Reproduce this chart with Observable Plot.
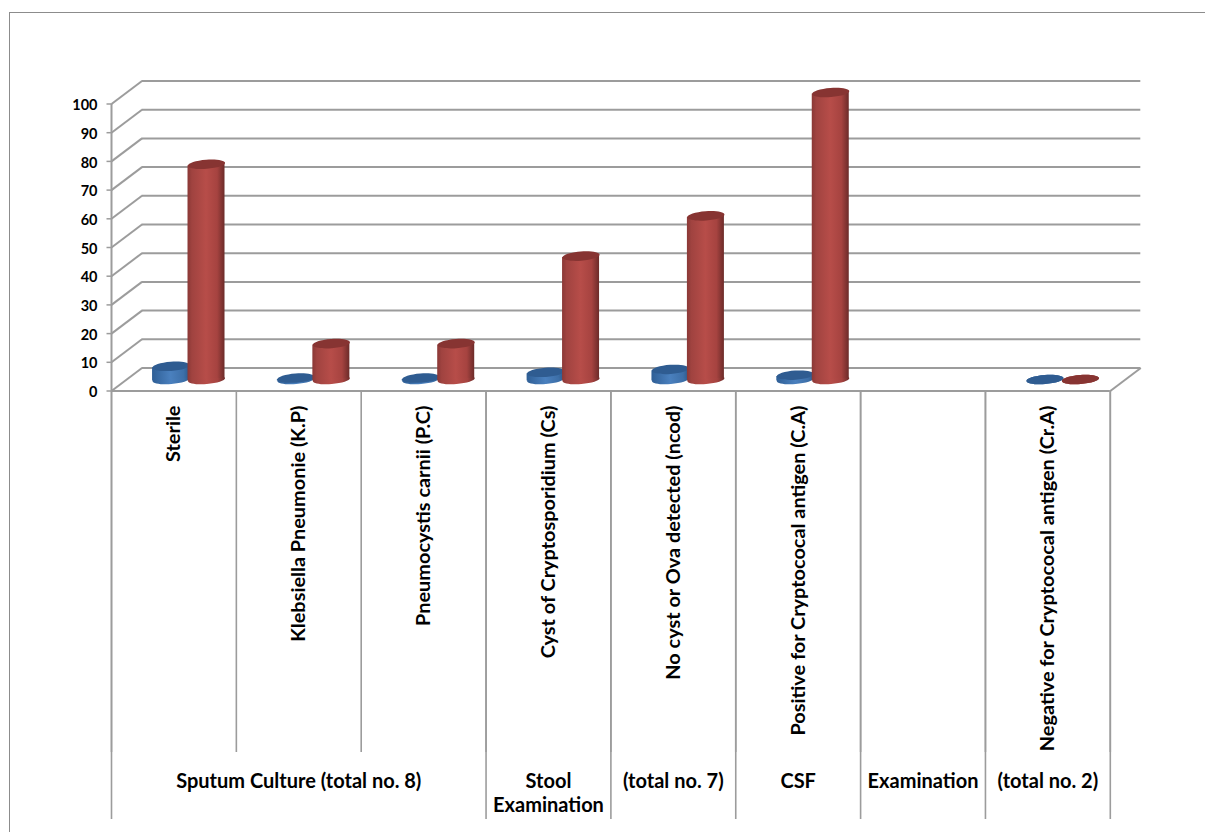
<!DOCTYPE html>
<html>
<head>
<meta charset="utf-8">
<script src="https://cdn.jsdelivr.net/npm/d3@7"></script>
<script src="https://cdn.jsdelivr.net/npm/@observablehq/plot@0.6"></script>
<style>
  html, body { margin: 0; padding: 0; background: #fff; width: 1205px; height: 832px; overflow: hidden; }
  #sheet { position: absolute; left: 9px; top: 12px; right: 0; bottom: 0; border-left: 1.5px solid #8c8c8c; border-top: 1.5px solid #8c8c8c; }
  #chart { position: absolute; left: 0; top: 0; }
</style>
</head>
<body>
<div id="sheet"></div>
<div id="chart"></div>
<script>
// Test results per examination: two series drawn as 3-D cylinders.
const categories = [
  "Sterile",
  "Klebsiella Pneumonie (K.P)",
  "Pneumocystis carnii (P.C)",
  "Cyst of Cryptosporidium (Cs)",
  "No cyst or Ova detected (ncod)",
  "Positive for Cryptococal antigen (C.A)",
  "",
  "Negative for Cryptococal antigen (Cr.A)"
];
const blueValues = [4.6, 0.5, 0.5, 2.5, 3.5, 1.5, null, 0];
const redValues = [75, 12.5, 12.5, 43, 57, 100, null, 0];
const yTicks = [0, 10, 20, 30, 40, 50, 60, 70, 80, 90, 100];

// Outer tier of the category axis.
const groupLabels = ["Sputum Culture (total no. 8)", "Stool\nExamination", "(total no. 7)", "CSF", "Examination", "(total no. 2)"];
const groupStarts = [0, 3, 4, 5, 6, 7];
const groupEnds = [3, 4, 5, 6, 7, 8];

// Scale geometry and the oblique projection of the chart box.
const xRange = [111, 1109.8];
const yRange = [390.5, 103.5];
const pxPerX = (xRange[1] - xRange[0]) / 8;
const pxPerY = (yRange[0] - yRange[1]) / 100;
const below = (px) => -px / pxPerY;          // distance under the zero line, in value units
const depthX = 30.5 / pxPerX;
const depthY = 23 / pxPerY;
const baseLift = 11.5 / pxPerY;              // cylinders stand mid-way into the floor
const halfWidth = 18.5 / pxPerX;
const tiltLift = 1.4 / pxPerY;               // perspective slant across a cylinder
const blueSlot = 0.477;
const redSlot = 0.761;

const lineColor = "#9c9c9c";
const textFont = "Lato, 'Open Sans', sans-serif";

// A slanted ellipse usable as a Plot.dot symbol.
function ellipseSymbol(rx, ry, angle) {
  const c = Math.cos(angle), s = Math.sin(angle), k = 0.5523;
  const pt = (u, v) => [u * c - v * s, u * s + v * c];
  return {
    draw(ctx) {
      ctx.moveTo(...pt(rx, 0));
      ctx.bezierCurveTo(...pt(rx, k * ry), ...pt(k * rx, ry), ...pt(0, ry));
      ctx.bezierCurveTo(...pt(-k * rx, ry), ...pt(-rx, k * ry), ...pt(-rx, 0));
      ctx.bezierCurveTo(...pt(-rx, -k * ry), ...pt(-k * rx, -ry), ...pt(0, -ry));
      ctx.bezierCurveTo(...pt(k * rx, -ry), ...pt(rx, -k * ry), ...pt(rx, 0));
      ctx.closePath();
    }
  };
}
const lens = ellipseSymbol(18.6, 4.6, -0.075);

// Table for one series: each cylinder's centre, and the two edges of its body.
const barsOf = (values, slot) =>
  values.flatMap((v, i) => (v == null ? [] : [{ id: i, cx: i + slot, v }]));
const bodyEdges = (bars) =>
  bars.flatMap((b) => [
    { id: b.id, x: b.cx - halfWidth, y1: baseLift - tiltLift, y2: baseLift + b.v - tiltLift },
    { id: b.id, x: b.cx + halfWidth, y1: baseLift + tiltLift, y2: baseLift + b.v + tiltLift }
  ]);

const blueBars = barsOf(blueValues, blueSlot);
const redBars = barsOf(redValues, redSlot);

function cylinders(bars, gradient, topColor) {
  return [
    Plot.dot(bars, { x: "cx", y: () => baseLift, symbol: lens, fill: gradient, stroke: "none" }),
    Plot.area(bodyEdges(bars.filter((b) => b.v > 0)), { x1: "x", y1: "y1", y2: "y2", z: "id", fill: gradient, curve: "linear" }),
    Plot.dot(bars, { x: "cx", y: (b) => baseLift + b.v, symbol: lens, fill: topColor, stroke: "none" })
  ];
}

const gradients = () => {
  const ns = "http://www.w3.org/2000/svg";
  const defs = document.createElementNS(ns, "defs");
  const add = (id, stops) => {
    const g = document.createElementNS(ns, "linearGradient");
    g.setAttribute("id", id);
    stops.forEach(([o, c]) => {
      const s = document.createElementNS(ns, "stop");
      s.setAttribute("offset", o);
      s.setAttribute("stop-color", c);
      g.appendChild(s);
    });
    defs.appendChild(g);
  };
  add("redBody", [[0, "#8a3836"], [0.12, "#a04340"], [0.5, "#b74d49"], [0.8, "#a64340"], [1, "#6c2b29"]]);
  add("blueBody", [[0, "#2f5f96"], [0.5, "#4a80be"], [0.85, "#3d6fa8"], [1, "#2c5a8d"]]);
  return defs;
};

const chart = Plot.plot({
  width: 1205,
  height: 832,
  marginTop: 0,
  marginRight: 0,
  marginBottom: 0,
  marginLeft: 0,
  style: { background: "transparent", fontFamily: textFont, color: "#000", overflow: "visible" },
  x: { domain: [0, 8], range: xRange, axis: null },
  y: { domain: [0, 100], range: yRange, axis: null },
  marks: [
    gradients,

    // Back wall and side wall gridlines.
    Plot.ruleY(yTicks, { x1: depthX, x2: 8 + depthX, y: (d) => d + depthY, stroke: lineColor, strokeWidth: 2 }),
    Plot.link(yTicks, { x1: 0, y1: (d) => d, x2: depthX, y2: (d) => d + depthY, stroke: lineColor, strokeWidth: 2 }),

    // Floor edge on the right and the front axis lines.
    Plot.link([0], { x1: 8, y1: 0, x2: 8 + depthX, y2: depthY, stroke: lineColor, strokeWidth: 2 }),
    Plot.ruleY([0], { x1: 0, x2: 8, stroke: lineColor, strokeWidth: 2 }),
    Plot.ruleX([0], { y1: 0, y2: 100, stroke: lineColor, strokeWidth: 2 }),
    Plot.ruleY(yTicks, { x1: -4.5 / pxPerX, x2: 0, stroke: lineColor, strokeWidth: 1.5 }),

    // Category dividers: inner tier, then group boundaries through the outer tier.
    Plot.ruleX(d3.range(9), { y1: 0, y2: below(361.5), stroke: lineColor, strokeWidth: 1.6 }),
    Plot.ruleX([...groupStarts, 8], { y1: 0, y2: below(428.5), stroke: lineColor, strokeWidth: 1.6 }),

    ...cylinders(blueBars, "url(#blueBody)", "#2f5c91"),
    ...cylinders(redBars, "url(#redBody)", "#873432"),

    // Value labels on the vertical axis.
    Plot.text(yTicks, { x: 0, y: (d) => d, text: (d) => String(d), dx: -14, dy: 1.5, textAnchor: "end", fontWeight: 700, fontSize: 14.5 }),

    // Rotated category names, hanging from the axis.
    Plot.text(categories, {
      x: (d, i) => i + 0.5,
      y: below(14.5),
      text: (d) => d,
      rotate: -90,
      textAnchor: "end",
      fontWeight: 700,
      fontSize: 19.9
    }),

    // Group names under the dividers.
    Plot.text(groupLabels, {
      x: (d, i) => (groupStarts[i] + groupEnds[i]) / 2,
      y: below(379.5),
      text: (d) => d,
      lineAnchor: "top",
      lineHeight: 1.2,
      fontWeight: 700,
      fontSize: 20
    })
  ]
});

document.getElementById("chart").appendChild(chart);
</script>
</body>
</html>
